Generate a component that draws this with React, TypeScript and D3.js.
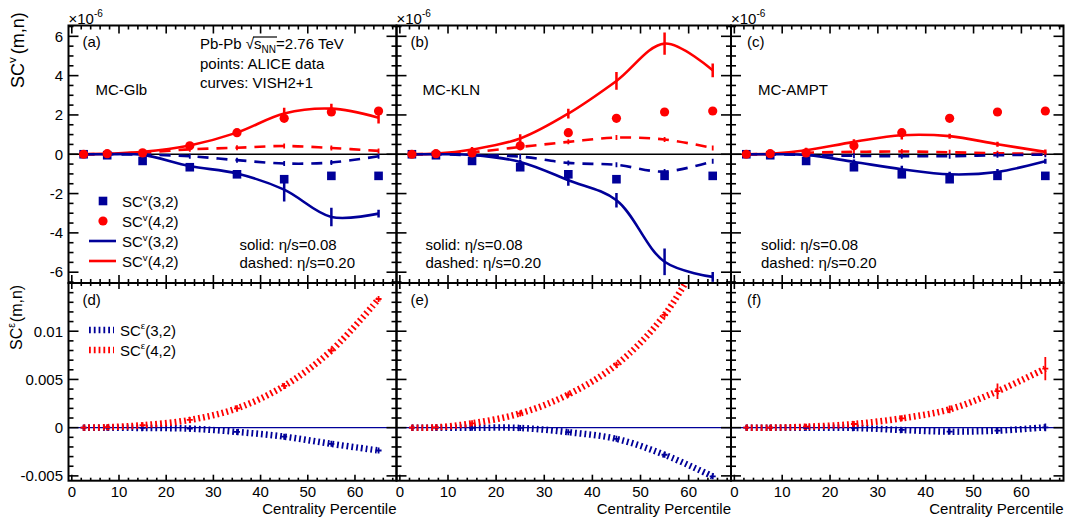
import React from "react";
import * as d3 from "d3";

// ---------- data ----------
const CENTRALITY = [2.5, 7.5, 15, 25, 35, 45, 55, 65];
const X_TICKS = [0, 10, 20, 30, 40, 50, 60];
const TOP_Y_TICKS = [-6, -4, -2, 0, 2, 4, 6];
const BOT_Y_TICKS = [-0.005, 0, 0.005, 0.01];

// ALICE data, units of 1e-6
const ALICE_SC32 = [0, -0.05, -0.34, -0.66, -1.02, -1.27, -1.1, -1.1];
const ALICE_SC42 = [0, 0.03, 0.07, 0.43, 1.1, 1.83, 2.15, 2.2];

// VISH2+1, eta/s = 0.08 (solid) and 0.20 (dashed), units of 1e-6
const GLB_V08_32 = [0, 0, -0.03, -0.6, -0.98, -1.8, -3.19, -3.02];
const GLB_V08_32_ERR = [0.02, 0.02, 0.03, 0.08, 0.12, 0.6, 0.47, 0.2];
const GLB_V08_42 = [0, 0.03, 0.12, 0.45, 1.1, 2.07, 2.32, 1.86];
const GLB_V08_42_ERR = [0.02, 0.03, 0.05, 0.1, 0.12, 0.3, 0.25, 0.3];
const GLB_V20_32 = [0, 0, -0.02, -0.1, -0.3, -0.47, -0.42, -0.1];
const GLB_V20_42 = [0, 0.02, 0.08, 0.25, 0.33, 0.42, 0.32, 0.17];

const KLN_V08_32 = [0, 0, -0.03, -0.39, -1.32, -2.34, -5.47, -6.24];
const KLN_V08_32_ERR = [0.02, 0.02, 0.03, 0.1, 0.28, 0.37, 0.68, 0.25];
const KLN_V08_42 = [0, 0.03, 0.24, 0.8, 2.07, 3.73, 5.63, 4.27];
const KLN_V08_42_ERR = [0.02, 0.03, 0.08, 0.22, 0.25, 0.45, 0.57, 0.35];
const KLN_V20_32 = [0, 0, -0.05, -0.12, -0.44, -0.54, -0.88, -0.36];
const KLN_V20_42 = [0, 0.02, 0.1, 0.37, 0.63, 0.85, 0.75, 0.32];

const AMPT_V08_32 = [0, 0, -0.03, -0.39, -0.76, -1.02, -0.9, -0.36];
const AMPT_V08_32_ERR = [0.02, 0.02, 0.03, 0.06, 0.18, 0.1, 0.15, 0.05];
const AMPT_V08_42 = [0, 0.02, 0.2, 0.63, 0.97, 0.92, 0.51, 0.12];
const AMPT_V08_42_ERR = [0.02, 0.02, 0.05, 0.05, 0.22, 0.1, 0.05, 0.05];
const AMPT_V20_32 = [0, 0, -0.04, -0.08, -0.1, -0.1, -0.05, -0.02];
const AMPT_V20_42 = [0, 0.02, 0.08, 0.12, 0.14, 0.1, 0.05, 0.02];

// Initial-state eccentricity correlators SC^eps(m,n)
const GLB_E_32 = [0, 0, -0.00003, -0.0001, -0.00044, -0.00093, -0.00168, -0.00237];
const GLB_E_42 = [0, 0.00005, 0.00025, 0.0008, 0.002, 0.00433, 0.008, 0.01334];
const GLB_E_32_ERR = [0.00002, 0.00002, 0.00003, 0.00005, 0.0001, 0.00012, 0.00015, 0.0002];
const GLB_E_42_ERR = [0.00002, 0.00002, 0.00003, 0.00005, 0.0001, 0.00015, 0.0002, 0.0002];
const KLN_E_32 = [0, 0, -0.00001, -0.00003, -0.00047, -0.00116, -0.00281, -0.00505];
const KLN_E_42 = [0, 0.00003, 0.00045, 0.00148, 0.00344, 0.00653, 0.0117, 0.02];
const KLN_E_32_ERR = [0.00002, 0.00002, 0.00003, 0.00005, 0.0001, 0.00012, 0.00015, 0.0002];
const KLN_E_42_ERR = [0.00002, 0.00002, 0.00003, 0.00005, 0.0001, 0.00012, 0.0002, 0.0002];
const AMPT_E_32 = [0, 0, -0.00001, -0.00003, -0.00024, -0.00041, -0.00031, 0.00003];
const AMPT_E_42 = [0, 0, 0.0001, 0.00038, 0.00097, 0.0019, 0.00378, 0.00612];
const AMPT_E_32_ERR = [0.00002, 0.00002, 0.00003, 0.00008, 0.0001, 0.0002, 0.0002, 0.0004];
const AMPT_E_42_ERR = [0.00002, 0.00002, 0.00003, 0.0002, 0.0003, 0.0004, 0.0008, 0.0012];

const PANEL_TAGS_TOP = ["(a)", "(b)", "(c)"];
const PANEL_TAGS_BOT = ["(d)", "(e)", "(f)"];
const MODEL_NAMES = ["MC-Glb", "MC-KLN", "MC-AMPT"];

// ---------- layout ----------
const W = 1068;
const H = 517;
const FONT = '"Liberation Sans", Arial, Helvetica, sans-serif';
const RED = "#ff0000";
const BLUE = "#000099";
const X_DOMAIN: [number, number] = [-0.7, 68.8];
const PANEL_X: [number, number][] = [
  [68.5, 396.5],
  [396.5, 731],
  [731, 1063.5],
];
const TOP_Y: [number, number] = [25.5, 283];
const BOT_Y: [number, number] = [283, 480.7];
const TOP_DOMAIN: [number, number] = [-6.55, 6.55];
const BOT_DOMAIN: [number, number] = [-0.0055, 0.015];

const topModels = [
  { v08_32: GLB_V08_32, e32: GLB_V08_32_ERR, v08_42: GLB_V08_42, e42: GLB_V08_42_ERR, v20_32: GLB_V20_32, v20_42: GLB_V20_42 },
  { v08_32: KLN_V08_32, e32: KLN_V08_32_ERR, v08_42: KLN_V08_42, e42: KLN_V08_42_ERR, v20_32: KLN_V20_32, v20_42: KLN_V20_42 },
  { v08_32: AMPT_V08_32, e32: AMPT_V08_32_ERR, v08_42: AMPT_V08_42, e42: AMPT_V08_42_ERR, v20_32: AMPT_V20_32, v20_42: AMPT_V20_42 },
];
const botModels = [
  { s32: GLB_E_32, e32: GLB_E_32_ERR, s42: GLB_E_42, e42: GLB_E_42_ERR },
  { s32: KLN_E_32, e32: KLN_E_32_ERR, s42: KLN_E_42, e42: KLN_E_42_ERR },
  { s32: AMPT_E_32, e32: AMPT_E_32_ERR, s42: AMPT_E_42, e42: AMPT_E_42_ERR },
];
const topOffsets = [
  { tag: 14, name: 27, solid: 171 },
  { tag: 14, name: 26, solid: 29 },
  { tag: 16, name: 27, solid: 30 },
];

type Scale = d3.ScaleLinear<number, number>;

function Frame(props: {
  x0: number; x1: number; y0: number; y1: number;
  xs: Scale; ys: Scale;
  yMinor: number[]; yMajor: number[];
  xMinor: number[]; xMajor: number[];
  xLen: number; yLen: number;
}) {
  const { x0, x1, y0, y1, xs, ys, yMinor, yMajor, xMinor, xMajor, xLen, yLen } = props;
  const lines: React.ReactNode[] = [];
  const isMaj = (arr: number[], v: number) => arr.some((m) => Math.abs(m - v) < 1e-9);
  yMinor.forEach((v, i) => {
    const y = ys(v);
    const len = isMaj(yMajor, v) ? yLen : yLen / 2;
    lines.push(<line key={"yl" + i} x1={x0} x2={x0 + len} y1={y} y2={y} />);
    lines.push(<line key={"yr" + i} x1={x1} x2={x1 - len} y1={y} y2={y} />);
  });
  xMinor.forEach((v, i) => {
    const x = xs(v);
    const len = isMaj(xMajor, v) ? xLen : xLen / 2;
    lines.push(<line key={"xb" + i} x1={x} x2={x} y1={y1} y2={y1 - len} />);
    lines.push(<line key={"xt" + i} x1={x} x2={x} y1={y0} y2={y0 + len} />);
  });
  return (
    <g stroke="#000" strokeWidth={1.6} fill="none">
      {lines}
      <rect x={x0} y={y0} width={x1 - x0} height={y1 - y0} strokeWidth={2} />
    </g>
  );
}

function SupLabel(props: { x: number; y: number; sup: string; rest: string; size?: number; gap?: number }) {
  const s = props.size ?? 15;
  return (
    <text x={props.x} y={props.y} fontSize={s} fontFamily={FONT} fill="#000">
      <tspan>SC</tspan>
      <tspan fontSize={s * 0.65} dy={-s * 0.42}>{props.sup}</tspan>
      <tspan dy={s * 0.42} dx={props.gap ?? 0}>{props.rest}</tspan>
    </text>
  );
}

export default function App() {
  const xMinor = d3.range(0, 35).map((i) => i * 2);
  const topYMinor = d3.range(-13, 14).map((i) => i * 0.5);
  const botYMinor = d3.range(-5, 16).map((i) => i * 0.001);

  const panels = PANEL_X.map(([x0, x1], p) => {
    const xs = d3.scaleLinear().domain(X_DOMAIN).range([x0, x1]);
    const yt = d3.scaleLinear().domain(TOP_DOMAIN).range([TOP_Y[1], TOP_Y[0]]);
    const yb = d3.scaleLinear().domain(BOT_DOMAIN).range([BOT_Y[1], BOT_Y[0]]);
    const lineT = d3
      .line<[number, number]>()
      .x((d) => xs(d[0]))
      .y((d) => yt(d[1]))
      .curve(d3.curveCatmullRom.alpha(0.5));
    const lineB = d3
      .line<[number, number]>()
      .x((d) => xs(d[0]))
      .y((d) => yb(d[1]))
      .curve(d3.curveCatmullRom.alpha(0.5));
    const pts = (vals: number[]) => CENTRALITY.map((c, i) => [c, vals[i]] as [number, number]);
    const m = topModels[p];
    const b = botModels[p];
    const off = topOffsets[p];

    const errBars = (vals: number[], errs: number[] | null, ys: Scale, color: string, w: number, key: string, minHalf: number) =>
      CENTRALITY.map((c, i) => {
        const y = ys(vals[i]);
        const half = errs ? Math.max(Math.abs(ys(vals[i] + errs[i]) - y), minHalf) : minHalf;
        return (
          <line key={key + i} x1={xs(c)} x2={xs(c)} y1={y - half} y2={y + half} stroke={color} strokeWidth={w} />
        );
      });

    return (
      <g key={p}>
        <defs>
          <clipPath id={"ct" + p}>
            <rect x={x0} y={TOP_Y[0]} width={x1 - x0} height={TOP_Y[1] - TOP_Y[0]} />
          </clipPath>
          <clipPath id={"cb" + p}>
            <rect x={x0} y={BOT_Y[0]} width={x1 - x0} height={BOT_Y[1] - BOT_Y[0]} />
          </clipPath>
        </defs>

        {/* ---- top panel ---- */}
        <g clipPath={`url(#ct${p})`}>
          <line x1={x0} x2={x1} y1={yt(0)} y2={yt(0)} stroke="#000" strokeWidth={1.6} />
          <path d={lineT(pts(m.v20_42)) || ""} fill="none" stroke={RED} strokeWidth={2.6} strokeDasharray="11 8" />
          <path d={lineT(pts(m.v20_32)) || ""} fill="none" stroke={BLUE} strokeWidth={2.6} strokeDasharray="11 8" />
          {errBars(m.v20_42, null, yt, RED, 1.8, "d42", 2.5)}
          {errBars(m.v20_32, null, yt, BLUE, 1.8, "d32", 2.5)}
          <path d={lineT(pts(m.v08_42)) || ""} fill="none" stroke={RED} strokeWidth={2.6} />
          <path d={lineT(pts(m.v08_32)) || ""} fill="none" stroke={BLUE} strokeWidth={2.6} />
          {errBars(m.v08_42, m.e42, yt, RED, 2.5, "s42", 2.5)}
          {errBars(m.v08_32, m.e32, yt, BLUE, 2.5, "s32", 2.5)}
          {CENTRALITY.map((c, i) => (
            <rect key={"sq" + i} x={xs(c) - 4.3} y={yt(ALICE_SC32[i]) - 4.3} width={8.6} height={8.6} fill={BLUE} />
          ))}
          {CENTRALITY.map((c, i) => (
            <circle key={"ci" + i} cx={xs(c)} cy={yt(ALICE_SC42[i])} r={4.6} fill={RED} />
          ))}
        </g>
        <Frame
          x0={x0} x1={x1} y0={TOP_Y[0]} y1={TOP_Y[1]} xs={xs} ys={yt}
          yMinor={topYMinor} yMajor={TOP_Y_TICKS} xMinor={xMinor} xMajor={X_TICKS} xLen={8} yLen={10}
        />
        <text x={x0 + 0} y={24} fontSize={15} fontFamily={FONT}>
          ×10<tspan fontSize={10} dy={-7}>-6</tspan>
        </text>
        <text x={x0 + off.tag} y={47} fontSize={15} fontFamily={FONT}>{PANEL_TAGS_TOP[p]}</text>
        <text x={x0 + off.name} y={95} fontSize={15} fontFamily={FONT}>{MODEL_NAMES[p]}</text>
        <text x={x0 + off.solid} y={250} fontSize={15} fontFamily={FONT}>solid: η/s=0.08</text>
        <text x={x0 + off.solid} y={267.5} fontSize={15} fontFamily={FONT}>dashed: η/s=0.20</text>

        {/* ---- bottom panel ---- */}
        <g clipPath={`url(#cb${p})`}>
          <line x1={x0} x2={x1} y1={yb(0)} y2={yb(0)} stroke={BLUE} strokeWidth={1.2} />
          <path d={lineB(pts(b.s32)) || ""} fill="none" stroke={BLUE} strokeWidth={6.5} strokeDasharray="1.8 3" />
          <path d={lineB(pts(b.s42)) || ""} fill="none" stroke={RED} strokeWidth={6.5} strokeDasharray="1.8 3" />
          {errBars(b.s32, b.e32, yb, BLUE, 1.8, "b32", 3)}
          {errBars(b.s42, b.e42, yb, RED, 1.8, "b42", 3)}
          {CENTRALITY.map((c, i) => (
            <line key={"bh32" + i} x1={xs(c) - 3} x2={xs(c) + 3} y1={yb(b.s32[i])} y2={yb(b.s32[i])} stroke={BLUE} strokeWidth={1.8} />
          ))}
          {CENTRALITY.map((c, i) => (
            <line key={"bh42" + i} x1={xs(c) - 3} x2={xs(c) + 3} y1={yb(b.s42[i])} y2={yb(b.s42[i])} stroke={RED} strokeWidth={1.8} />
          ))}
        </g>
        <Frame
          x0={x0} x1={x1} y0={BOT_Y[0]} y1={BOT_Y[1]} xs={xs} ys={yb}
          yMinor={botYMinor} yMajor={BOT_Y_TICKS} xMinor={xMinor} xMajor={X_TICKS} xLen={6} yLen={10}
        />
        <text x={x0 + off.tag} y={305} fontSize={15} fontFamily={FONT}>{PANEL_TAGS_BOT[p]}</text>
        {X_TICKS.map((t) => (
          <text key={"xl" + t} x={xs(t)} y={497} fontSize={15} fontFamily={FONT} textAnchor="middle">
            {t}
          </text>
        ))}
        <text x={x1} y={514} fontSize={15} fontFamily={FONT} textAnchor="end">
          Centrality Percentile
        </text>

        {p === 0 && (
          <g>
            {TOP_Y_TICKS.map((t) => (
              <text key={"yt" + t} x={63} y={yt(t) + 5.3} fontSize={15} fontFamily={FONT} textAnchor="end">
                {t}
              </text>
            ))}
            {BOT_Y_TICKS.map((t) => (
              <text key={"yb" + t} x={63} y={yb(t) + 5.3} fontSize={15} fontFamily={FONT} textAnchor="end">
                {String(t)}
              </text>
            ))}
          </g>
        )}
      </g>
    );
  });

  return (
    <svg width={W} height={H} style={{ position: "absolute", left: 0, top: 0, background: "#fff" }}>
      <rect x={0} y={0} width={W} height={H} fill="#fff" />
      {panels}

      {/* y titles */}
      <g transform="translate(24,88) rotate(-90)">
        <SupLabel x={0} y={0} sup="v" rest="(m,n)" size={18} gap={3} />
      </g>
      <g transform="translate(22,350) rotate(-90)">
        <SupLabel x={0} y={0} sup="ε" rest="(m,n)" size={16} gap={1} />
      </g>

      {/* header texts panel (a) */}
      <text x={200} y={49} fontSize={15} fontFamily={FONT}>
        Pb-Pb <tspan>√</tspan>
        <tspan>s</tspan>
        <tspan fontSize={10} dy={3.5}>NN</tspan>
        <tspan dy={-3.5}>=2.76 TeV</tspan>
      </text>
      <line x1={253} x2={277} y1={37} y2={37} stroke="#000" strokeWidth={1.2} />
      <text x={200} y={68.5} fontSize={15} fontFamily={FONT}>points: ALICE data</text>
      <text x={200} y={88} fontSize={15} fontFamily={FONT}>curves: VISH2+1</text>

      {/* legend top */}
      <rect x={98.7} y={196.7} width={8.6} height={8.6} fill={BLUE} />
      <SupLabel x={122} y={207} sup="v" rest="(3,2)" />
      <circle cx={103} cy={221} r={4.6} fill={RED} />
      <SupLabel x={122} y={227} sup="v" rest="(4,2)" />
      <line x1={89} x2={116} y1={241} y2={241} stroke={BLUE} strokeWidth={2.6} />
      <SupLabel x={122} y={247} sup="v" rest="(3,2)" />
      <line x1={89} x2={116} y1={261} y2={261} stroke={RED} strokeWidth={2.6} />
      <SupLabel x={122} y={267} sup="v" rest="(4,2)" />

      {/* legend bottom */}
      <line x1={89} x2={114} y1={330} y2={330} stroke={BLUE} strokeWidth={6.5} strokeDasharray="1.8 3" />
      <SupLabel x={120} y={335.5} sup="ε" rest="(3,2)" />
      <line x1={89} x2={114} y1={350} y2={350} stroke={RED} strokeWidth={6.5} strokeDasharray="1.8 3" />
      <SupLabel x={120} y={355.5} sup="ε" rest="(4,2)" />
    </svg>
  );
}
